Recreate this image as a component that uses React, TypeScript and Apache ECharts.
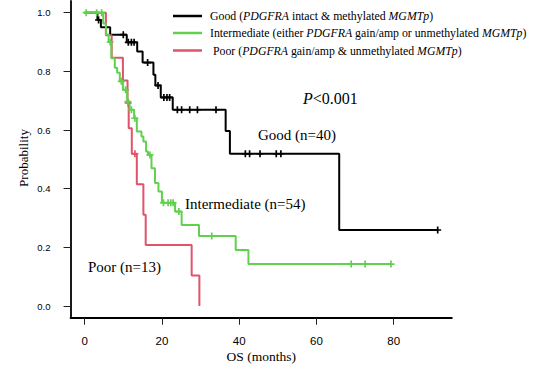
import React, { useEffect, useRef } from "react";
import * as echarts from "echarts";

// ---- Data ----
const goodTimes = [0, 3.3, 4.2, 6.6, 10.9, 13.6, 15.0, 17.8, 18.3, 19.7, 22.8, 36.5, 37.6, 65.9];
const goodSurv = [1.0, 0.975, 0.95, 0.925, 0.899, 0.868, 0.83, 0.788, 0.752, 0.711, 0.669, 0.597, 0.519, 0.259];
const goodCensor = [3.6, 10.0, 11.3, 12.1, 12.8, 16.3, 19.0, 20.5, 21.3, 22.0, 24.0, 25.1, 27.2, 29.2, 34.0, 41.6, 42.7, 45.4, 49.6, 50.8, 91.4];
const goodEnd = 91.4;

const interTimes = [0, 4.8, 5.5, 6.2, 6.9, 7.8, 8.4, 9.1, 9.9, 11.0, 11.65, 12.8, 13.5, 14.7, 15.2, 15.9, 16.4, 17.3, 18.2, 19.1, 20.0, 23.4, 25.1, 29.6, 39.1, 42.4];
const interSurv = [1.0, 0.963, 0.926, 0.9, 0.845, 0.812, 0.795, 0.766, 0.737, 0.697, 0.669, 0.64, 0.595, 0.578, 0.561, 0.527, 0.515, 0.47, 0.419, 0.39, 0.352, 0.322, 0.276, 0.239, 0.191, 0.143];
const interCensor = [0.4, 3.1, 4.4, 6.6, 9.5, 10.6, 11.2, 12.1, 13.0, 16.9, 20.4, 21.6, 22.3, 22.9, 24.4, 32.9, 69.0, 72.6, 79.3];
const interEnd = 79.3;

const poorTimes = [0, 5.5, 7.0, 9.9, 11.1, 11.4, 12.2, 13.5, 15.2, 15.8, 27.7, 29.7];
const poorSurv = [1.0, 0.923, 0.846, 0.769, 0.692, 0.606, 0.519, 0.415, 0.311, 0.208, 0.104, 0.0];
const poorCensor = [11.25, 13.0];
const poorEnd = 29.7;

const xTicks = [0, 20, 40, 60, 80];
const yTicks = [0, 0.2, 0.4, 0.6, 0.8, 1.0];

const BLACK = "#000000";
const GREEN = "#61D04F";
const RED = "#DF536B";

const SERIF = "'Liberation Serif', 'Times New Roman', serif";
const SANS = "'Liberation Sans', Arial, sans-serif";

const PLUS = "path://M3.8,0H6.2V3.8H10V6.2H6.2V10H3.8V6.2H0V3.8H3.8Z";

function stepData(times: number[], surv: number[], end: number) {
  const d = times.map((t, i) => [t, surv[i]]);
  d.push([end, surv[surv.length - 1]]);
  return d;
}

function survAt(times: number[], surv: number[], t: number) {
  let v = surv[0];
  for (let i = 0; i < times.length; i++) if (times[i] <= t) v = surv[i];
  return v;
}

function censorData(times: number[], surv: number[], cens: number[]) {
  return cens.map((c) => [c, survAt(times, surv, c)]);
}

export default function App() {
  const ref = useRef<HTMLDivElement>(null);
  useEffect(() => {
    if (!ref.current) return;
    const chart = echarts.init(ref.current, null, { renderer: "svg" });
    const X0 = 84.67;
    const XS = 3.8625;
    const xMin = -3.656;
    const xMax = 95.06;
    const yMin = -0.04;
    const yMax = 1.04;
    const YS = 293.33;
    const gridLeft = X0 + xMin * XS;
    const gridWidth = (xMax - xMin) * XS;
    const gridTop = 306 - yMax * YS;
    const gridHeight = (yMax - yMin) * YS;

    const line = (data: number[][], color: string, z: number) => ({
      type: "line",
      step: "end",
      data,
      symbol: "none",
      showSymbol: false,
      lineStyle: { color, width: 2 },
      itemStyle: { color },
      z,
      silent: true,
    });
    const cens = (data: number[][], color: string, z: number) => ({
      type: "scatter",
      data,
      symbol: PLUS,
      symbolSize: 7,
      itemStyle: { color, opacity: 1 },
      z,
      silent: true,
    });

    const legendText = (y: number, x: number, label: string, parts: string[]) => ({
      type: "text",
      x,
      y,
      style: {
        text: parts.join(""),
        fontSize: 11.8,
        fontFamily: SERIF,
        fill: "#000",
        verticalAlign: "middle",
        align: "left",
        rich: {
          n: { fontSize: 11.8, fontFamily: SERIF, fill: "#000" },
          i: { fontSize: 11.8, fontFamily: SERIF, fill: "#000", fontStyle: "italic" },
        },
      },
    });

    chart.setOption({
      animation: false,
      backgroundColor: "#ffffff",
      grid: {
        left: gridLeft,
        top: gridTop,
        width: gridWidth,
        height: gridHeight,
        containLabel: false,
        outerBoundsMode: "none",
      },
      xAxis: {
        type: "value",
        min: xMin,
        max: xMax,
        splitLine: { show: false },
        axisLine: { show: true, onZero: false, lineStyle: { color: "#000", width: 1.8 } },
        axisTick: { show: true, customValues: xTicks, length: 7, lineStyle: { color: "#222", width: 1 } },
        axisLabel: {
          show: true,
          customValues: xTicks,
          margin: 17,
          fontSize: 11.5,
          fontFamily: SANS,
          color: "#000",
        },
      },
      yAxis: {
        type: "value",
        min: yMin,
        max: yMax,
        splitLine: { show: false },
        axisLine: { show: true, onZero: false, lineStyle: { color: "#000", width: 1.8 } },
        axisTick: { show: true, customValues: yTicks, length: 7, lineStyle: { color: "#222", width: 1 } },
        axisLabel: {
          show: true,
          customValues: yTicks,
          margin: 20,
          fontSize: 9.5,
          fontFamily: SANS,
          color: "#000",
          formatter: (v: number) => v.toFixed(1),
        },
      },
      series: [
        line(stepData(goodTimes, goodSurv, goodEnd), BLACK, 2),
        line(stepData(poorTimes, poorSurv, poorEnd), RED, 3),
        line(stepData(interTimes, interSurv, interEnd), GREEN, 4),
        cens(censorData(goodTimes, goodSurv, goodCensor), BLACK, 5),
        cens(censorData(poorTimes, poorSurv, poorCensor), RED, 6),
        cens(censorData(interTimes, interSurv, interCensor), GREEN, 7),
      ],
      graphic: [
        { type: "line", shape: { x1: 173, y1: 16, x2: 202, y2: 16 }, style: { stroke: BLACK, lineWidth: 2.5 } },
        { type: "line", shape: { x1: 173, y1: 33, x2: 202, y2: 33 }, style: { stroke: GREEN, lineWidth: 2.5 } },
        { type: "line", shape: { x1: 173, y1: 50.5, x2: 202, y2: 50.5 }, style: { stroke: RED, lineWidth: 2.5 } },
        legendText(16, 210, "good", ["{n|Good (}", "{i|PDGFRA}", "{n| intact & methylated }", "{i|MGMTp}", "{n|)}"]),
        legendText(33, 210, "inter", [
          "{n|Intermediate (either }",
          "{i|PDGFRA}",
          "{n| gain/amp or unmethylated }",
          "{i|MGMTp}",
          "{n|)}",
        ]),
        legendText(50.5, 213, "poor", ["{n|Poor (}", "{i|PDGFRA}", "{n| gain/amp & unmethylated }", "{i|MGMTp}", "{n|)}"]),
        {
          type: "text",
          x: 303,
          y: 98.5,
          style: {
            text: "{i|P}{n|<0.001}",
            fontSize: 16,
            fontFamily: SERIF,
            fill: "#000",
            verticalAlign: "middle",
            rich: {
              i: { fontSize: 16, fontFamily: SERIF, fontStyle: "italic", fill: "#000" },
              n: { fontSize: 16, fontFamily: SERIF, fill: "#000" },
            },
          },
        },
        {
          type: "text",
          x: 258,
          y: 135,
          style: { text: "Good (n=40)", fontSize: 15, fontFamily: SERIF, fill: "#000", verticalAlign: "middle" },
        },
        {
          type: "text",
          x: 185,
          y: 204,
          style: { text: "Intermediate (n=54)", fontSize: 15, fontFamily: SERIF, fill: "#000", verticalAlign: "middle" },
        },
        {
          type: "text",
          x: 88,
          y: 267,
          style: { text: "Poor (n=13)", fontSize: 15, fontFamily: SERIF, fill: "#000", verticalAlign: "middle" },
        },
        {
          type: "text",
          x: 23,
          y: 158,
          rotation: Math.PI / 2,
          style: {
            text: "Probability",
            fontSize: 13,
            fontFamily: SERIF,
            fill: "#000",
            align: "center",
            verticalAlign: "middle",
          },
        },
        {
          type: "text",
          x: 261.3,
          y: 356.5,
          style: {
            text: "OS (months)",
            fontSize: 13.5,
            fontFamily: SERIF,
            fill: "#000",
            align: "center",
            verticalAlign: "middle",
          },
        },
      ],
    });
    return () => chart.dispose();
  }, []);
  return (
    <div
      ref={ref}
      style={{ position: "fixed", left: 0, top: 0, width: 539, height: 370, background: "#fff" }}
    />
  );
}
